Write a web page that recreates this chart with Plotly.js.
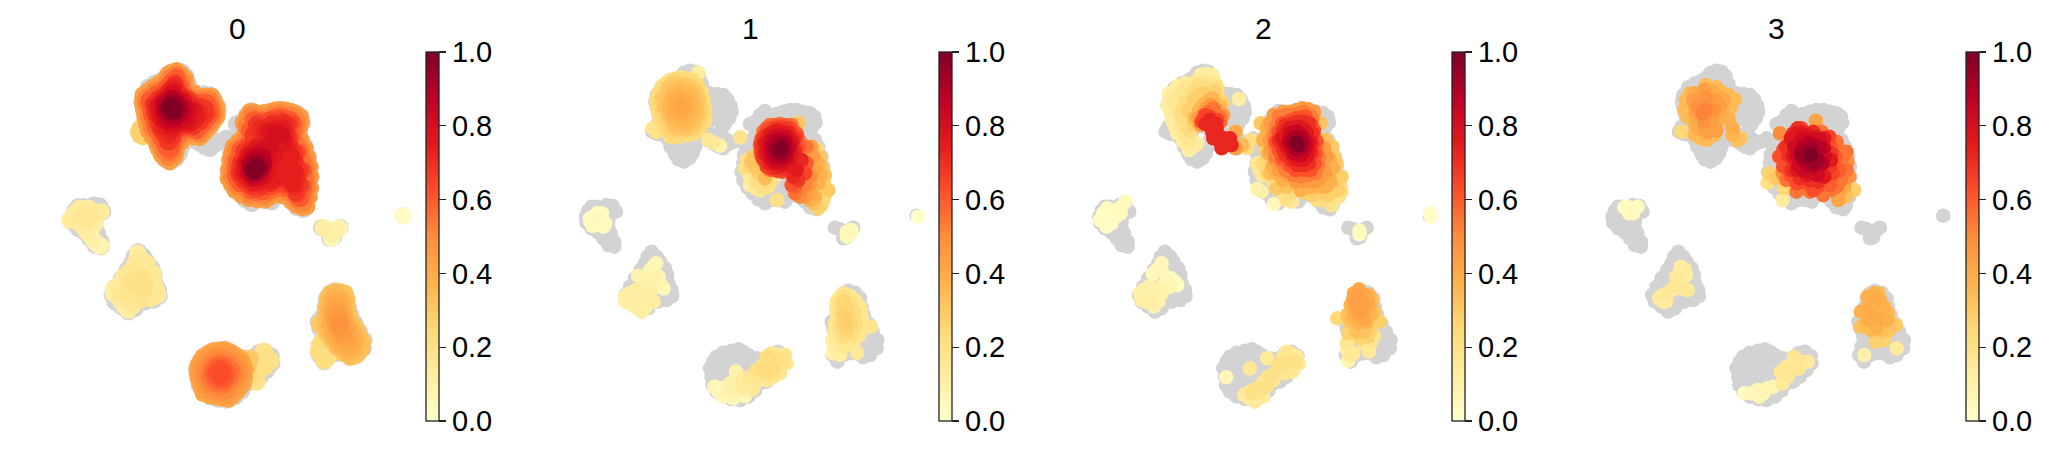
<!DOCTYPE html>
<html><head><meta charset="utf-8">
<script src="https://cdn.plot.ly/plotly-3.0.1.min.js"></script>
<style>html,body{margin:0;padding:0;background:#fff}</style></head>
<body><div id="chart" style="width:2053px;height:475px"></div>
<script>
const panelTitles = ["0","1","2","3"];
const tickVals = [0,0.2,0.4,0.6,0.8,1.0];
const tickText = ["0.0","0.2","0.4","0.6","0.8","1.0"];
const ylOrRd = ["#ffffcc","#ffeda0","#fed976","#feb24c","#fd8d3c","#fc4e2a","#e31a1c","#bd0026","#800026"];

// embedding positions of all cells (x,y pairs)
const allCells = [
410,212,425,215,437,228,445,250,450,268,470,280,490,282,510,285,522,298,532,318,535,335,528,355,515,372,505,390,490,405,475,418,460,420,445,410,430,420,425,440,418,460,408,475,392,485,375,478,365,462,352,440,345,420,330,405,312,402,297,395,305,380,318,365,316,345,310,322,306,305,310,285,325,262,345,250,365,242,380,232,392,218,
350,290,380,270,410,250,430,280,400,300,360,330,390,340,420,320,450,310,480,320,500,340,470,360,440,360,410,380,380,390,350,370,370,420,400,440,380,450,340,340,430,390,460,385,500,310,330,350,330,380,370,300,445,385,500,365,480,300,
480,430,495,440,510,445,525,432,545,425,560,415,520,420,
590,372,605,365,620,345,635,333,650,345,670,342,690,335,710,330,730,330,750,335,770,340,783,350,787,368,775,385,770,400,785,420,795,440,805,470,810,500,812,530,812,560,808,590,798,615,790,628,770,622,755,605,738,590,722,580,708,590,695,605,678,600,655,600,635,610,615,598,598,580,582,562,570,540,565,515,570,490,572,465,578,440,590,425,605,405,610,385,
640,380,670,370,700,365,735,365,760,370,630,420,665,410,700,410,735,410,600,460,640,460,680,450,720,450,760,450,600,510,640,510,680,500,720,500,770,490,620,560,660,560,700,550,740,550,780,550,780,590,620,390,650,410,620,470,590,540,650,530,700,475,750,420,790,470,790,520,760,590,720,560,680,580,640,580,
845,683,860,688,875,695,880,712,870,715,890,690,900,683,1090,647,
115,620,130,620,145,625,160,615,178,618,188,635,170,645,165,665,165,685,172,700,183,725,183,740,165,735,150,715,135,698,115,685,100,668,98,650,105,632,125,650,145,650,145,680,120,640,150,635,120,670,150,665,150,695,
295,755,310,770,320,785,335,805,342,825,345,850,355,870,357,888,340,900,315,905,295,908,285,925,265,935,245,920,225,905,217,885,230,860,245,835,262,810,275,790,283,770,300,800,310,830,280,830,265,860,300,860,320,870,250,880,280,890,300,780,325,810,320,845,295,830,260,835,240,870,270,900,300,885,335,880,255,905,
555,1048,535,1052,510,1058,490,1070,480,1085,470,1105,475,1130,478,1155,490,1175,510,1190,535,1197,560,1200,585,1190,605,1172,620,1150,640,1145,660,1130,680,1110,695,1090,693,1068,675,1055,655,1060,635,1075,610,1075,585,1065,570,1055,520,1090,560,1090,600,1110,640,1105,510,1130,550,1130,590,1145,520,1165,560,1165,500,1090,535,1075,575,1080,500,1115,530,1110,570,1110,495,1150,535,1145,575,1135,610,1095,625,1130,660,1080,680,1085,655,1105,500,1175,540,1180,580,1165,
885,872,905,878,920,895,925,920,932,945,945,970,958,995,972,1020,970,1045,950,1065,930,1072,910,1060,890,1060,870,1065,852,1085,838,1065,845,1040,850,1010,840,985,835,965,850,945,855,920,860,895,870,880,885,920,900,960,880,990,920,1000,890,1030,940,1030,870,910,900,910,870,950,905,930,865,1000,910,990,930,975,870,1030,920,1040,950,1020,950,1000,905,1020
];

// density level rows: first number is the level, then x,y pairs
const levels0 = [
[0.02,1090,647],
[0.05,875,715],[0.07,898,685],[0.08,182,738,170,730],[0.10,875,695,160,720,862,690,887,690,875,705,150,705],[0.11,265,930,250,915],[0.12,850,683,165,672,140,695,293,760,220,880,222,865,130,680],
[0.13,183,635,353,885,110,635,100,645,145,625,170,640,120,670,90,660],[0.14,100,660,120,625,250,830,240,900,300,775,275,810,350,875,235,855],[0.15,155,640,285,790,320,790,340,820,345,860,315,810,330,835,340,840,340,890,280,915],[0.16,140,660,125,650,330,895,320,890,265,820,240,880],
[0.18,300,900,265,885,290,815,672,1053,693,1082,650,1147,295,880,265,850,320,850,290,840],[0.20,305,835,310,870,280,850,665,1085,655,1120,640,1100,680,1070,675,1100,645,1130],[0.22,840,1050,852,1082,870,1065,835,1055,838,1035,846,1068,862,1075,880,1050],[0.24,850,1020,630,1130],[0.27,296,397,300,385,300,405,310,410],[0.30,838,972,625,1100,630,1075],
[0.33,885,875,915,880,920,920,930,960,950,990,968,1025,955,1060,930,1070,890,1040,860,1000,857,960,860,920,865,890,900,875,920,900,925,940,940,975,958,1008,965,1045,943,1068,910,1058,875,1020,858,980,858,940,862,905,873,880],
[0.35,895,885,912,905,917,945,932,985,950,1012,948,1045,925,1062,895,1040,870,1005,863,975,864,940,866,905,880,880],
[0.37,885,890,905,895,910,930,920,965,940,1000,950,1025,940,1050,925,1055,895,1030,875,995,868,960,870,925,875,900],
[0.39,895,900,905,920,913,950,928,985,942,1020,932,1042,910,1040,885,1010,872,975,873,940,878,912],
[0.41,890,910,900,935,910,970,925,1005,930,1030,905,1020,890,990,880,960,880,930],
[0.42,555,1050,520,1052,490,1070,475,1095,472,1120,480,1150,490,1180,525,1190,565,1197,590,1175,610,1150,615,1110,605,1080,580,1062,538,1050,505,1060,482,1082,472,1108,475,1135,485,1165,507,1186,545,1194,578,1187,600,1162,613,1130,610,1095,593,1070,568,1055],
[0.43,895,925,905,955,918,990,920,1018,900,1005,886,975,882,945],
[0.44,410,212,435,235,440,265,480,290,515,289,530,320,530,350,510,380,480,412,440,405,412,440,405,470,388,485,365,465,350,430,325,390,315,350,308,310,310,285,340,262,375,240,385,222,423,222,438,250,460,278,498,289,523,305,530,335,520,365,495,396,460,410,426,423,408,455,396,478,376,475,357,448,337,410,320,370,311,330,309,297,325,273,357,251,380,231,397,216,540,1057,512,1068,490,1090,477,1115,486,1143,497,1168,517,1183,547,1187,572,1178,592,1155,607,1125,600,1095,585,1076,565,1064],
[0.45,630,335,610,368,655,345,690,335,720,329,755,335,780,350,782,372,770,400,795,445,810,500,811,565,800,620,770,615,740,590,700,585,675,600,625,595,585,570,565,535,570,480,580,440,610,410,893,945,900,975,910,1000,895,985,885,955,643,337,672,338,705,331,738,331,768,342,782,362,778,388,783,422,803,472,812,530,807,590,787,622,755,603,722,585,688,592,650,598,605,585,575,553,566,508,575,460,595,425,620,352,618,390],
[0.46,555,1060,525,1062,498,1078,483,1100,482,1125,492,1155,503,1172,530,1180,562,1185,582,1165,600,1142,603,1108,595,1085,575,1070],
[0.48,897,965,900,980,419,234,430,260,455,287,495,294,517,312,525,338,513,362,490,388,460,400,423,413,402,447,391,466,379,463,362,440,343,405,330,367,322,330,316,300,333,282,362,261,385,241,400,228,638,342,664,348,703,338,736,338,765,350,776,372,770,392,778,428,797,478,806,532,802,590,782,612,757,593,722,578,688,584,650,590,608,577,583,550,572,508,580,462,600,430,625,360,625,400,538,1068,515,1080,497,1100,490,1120,500,1148,520,1172,548,1176,570,1160,585,1140,597,1118,582,1095,562,1078],
[0.50,550,1072,525,1075,505,1090,495,1110,498,1135,510,1160,535,1168,560,1170,575,1150,590,1130,590,1105,572,1085],
[0.52,410,222,428,245,432,275,478,298,510,298,520,325,520,348,503,372,478,402,440,395,405,432,398,460,385,472,372,455,358,425,335,385,325,348,318,310,320,292,345,272,378,250,390,232,632,348,618,380,660,355,695,345,722,340,752,345,770,358,770,380,762,405,785,450,800,505,802,560,792,608,772,602,745,578,700,572,672,588,628,585,592,560,575,530,580,482,590,445,618,418,537,1082,515,1095,503,1120,512,1145,538,1160,563,1150,580,1120,566,1092],
[0.55,540,1090,515,1105,510,1130,525,1150,550,1155,570,1135,575,1110,560,1095],
[0.56,415,245,425,268,450,295,490,304,510,318,515,338,500,358,482,382,452,388,418,405,396,440,386,458,372,428,352,398,340,362,332,330,326,305,340,290,365,272,388,253,403,238,645,358,668,360,710,350,735,352,757,365,762,392,770,435,788,482,796,535,792,578,775,595,755,572,722,565,686,575,650,578,615,560,590,540,585,505,595,465,612,438,632,408],
[0.58,530,1098,518,1118,532,1142,555,1140,565,1120,552,1100],
[0.60,410,232,420,258,425,285,475,308,500,308,510,330,510,345,495,365,470,392,435,385,400,422,392,448,378,440,365,415,345,380,335,345,328,312,330,298,350,282,380,262,395,245,640,360,628,392,665,365,700,355,725,350,750,358,760,372,755,410,775,455,790,510,790,560,782,595,770,588,745,565,700,560,668,575,632,572,600,550,587,527,590,485,600,450,628,425,535,1105,525,1125,545,1140,558,1120,548,1105],
[0.62,530,1115,540,1132,552,1125,540,1108],[0.63,538,1122,545,1115],
[0.64,410,262,420,282,455,305,484,320,502,337,488,355,470,372,445,380,412,392,392,425,380,420,362,390,350,358,342,328,346,305,368,286,393,265,655,368,690,360,722,358,752,368,750,412,770,458,784,510,784,558,772,582,755,558,725,553,690,560,650,568,622,552,604,535,596,505,608,472,622,440,640,418],
[0.68,405,250,415,275,440,295,470,318,495,325,495,345,480,365,460,380,430,375,398,408,385,425,372,400,355,372,345,340,340,312,355,295,382,278,650,375,640,405,670,380,705,368,728,365,745,375,745,415,765,460,778,510,778,555,768,578,745,550,705,545,665,560,635,560,610,540,598,522,602,488,612,455,640,432],
[0.71,403,258,422,288,452,312,482,340,465,360,435,373,408,385,385,405,365,385,352,345,347,315,372,290,390,270,660,385,695,372,735,372,740,400,750,440,765,485,772,530,765,560,748,540,725,535,690,550,650,552,625,540,606,522,605,500,618,475,632,450,658,428,665,405],
[0.74,400,268,430,300,465,330,470,350,450,370,420,370,395,390,375,380,360,350,352,320,365,300,675,395,705,385,730,385,735,420,755,470,765,515,760,550,740,530,710,525,690,460,720,450,665,545,638,548,618,530,610,515,614,490,625,462,652,440,680,420,700,420,740,450,750,500,730,490,710,490,700,500,690,500,700,540],
[0.77,400,275,428,302,455,330,445,362,418,368,392,380,368,360,358,335,360,312,385,290,690,395,715,395,730,430,710,440,695,420,700,470,685,500,675,525,652,535,632,530,616,512,618,490,628,468,645,450,668,442],
[0.80,398,282,425,305,445,330,440,355,415,365,390,370,372,345,365,320,375,302,705,405,725,405,690,440,680,470,665,530,640,535,625,520,622,495,635,470,660,455],
[0.83,410,300,435,322,432,345,402,362,382,360,370,332,372,312,388,297,665,480,670,505,655,525,638,530,626,515,628,490,640,472,655,463],
[0.86,398,295,420,315,425,335,410,350,390,355,377,335,375,315,672,490,660,515,640,525,630,510,632,490,648,475,668,470],
[0.89,410,312,420,325,415,342,395,348,382,338,378,322,392,305,665,495,655,512,640,520,632,505,640,485,655,478],
[0.92,397,305,412,322,400,340,385,330,388,315,660,500,645,515,636,503,645,490,655,490],
[0.95,405,318,408,335,392,336,388,322,398,312,653,500,647,510,640,505,645,495],
[1.0,395,322,390,320,402,330,642,512,650,505]
];

const levels1 = [
[0.01,1094,650],[0.03,111,665,131,640,146,640,120,650,110,655],[0.04,156,670,131,675,881,710,150,680,118,678],[0.05,141,655,895,690,331,865,890,702],[0.06,880,695,309,790,316,830,483,1160,510,1190,540,1195,520,1170,575,1188,495,1175,555,1185,505,1165,300,800],[0.07,291,810,305,825,320,850],[0.08,254,827,500,437,530,1175],
[0.10,286,850,548,1115,545,1170,555,1150,590,1170,530,1150,839,1060,295,835,275,860,560,1170],[0.11,216,890,216,905,276,925,251,925,232,900,228,880,238,915,265,935],[0.12,436,218,236,885,261,875,291,880,301,905,256,900,861,1065,590,555,275,895,290,895,248,870,575,1165],[0.13,836,1020,842,1040],[0.14,565,1155,605,1150,570,1135,590,1155,580,1145],[0.15,465,420,911,1058,590,530,622,570,607,565,480,428,600,1165],[0.16,871,1040],
[0.17,590,1135,620,1130,655,1060,695,1065,700,1090,680,1120,953,980,871,880,905,900,920,920,925,950,925,990,905,1020,875,1025,850,1010,845,970,850,940,850,905,890,888,922,935,925,970,918,1005,890,1025,860,1020,845,990,848,920,858,892,675,1065,640,1140,660,1130,600,1125],
[0.18,298,385,561,412,310,395],[0.20,610,1110,630,1095,650,1120,665,1085,685,1085,671,600,645,560,575,505,580,480,610,545,630,565,655,545,640,1070,650,1070,625,1115,670,1100,690,1075],
[0.22,381,232,420,240,445,275,455,320,455,365,425,400,380,410,350,410,330,380,315,340,308,300,325,260,350,240,871,890,895,910,905,940,908,975,895,1005,870,1010,860,980,860,940,862,910],
[0.23,630,1105,650,1095,645,1075,640,1120,660,1110],[0.24,400,235,433,255,450,298,456,343,441,385,403,406,365,411,340,395,322,360,311,320,315,280,337,250,365,236],[0.25,590,500,810,600,791,450,812,545,815,585,805,615],[0.26,871,905,885,930,890,965,880,995,870,970,870,935],
[0.27,381,245,415,252,435,280,445,320,442,360,420,390,385,398,355,395,340,370,325,335,320,300,335,268,355,250],[0.28,875,950,878,975,615,520,795,625],
[0.30,736,368,600,470,605,500,825,570,800,470,398,255,425,270,439,300,438,340,425,372,398,390,370,388,350,362,331,325,328,290,345,260,368,252,630,510,810,520],[0.32,381,258,410,265,425,290,432,320,430,350,410,375,385,382,360,378,345,350,335,320,335,295,350,272,805,500,815,525,610,485,595,485],[0.33,780,610],
[0.34,395,272,418,288,426,312,425,340,405,368,370,370,352,340,342,310,355,285,370,268],[0.35,635,535],
[0.36,381,272,405,282,418,305,420,335,405,358,382,368,360,355,348,325,352,295,362,280],[0.38,795,550,795,490,800,525,785,590,770,600],[0.39,381,290,402,305,405,330,385,348,365,335,362,305],[0.40,392,298,395,325,372,325],
[0.42,381,315,388,325,785,510,770,580,775,440],[0.45,780,470,755,590,770,555,765,510,770,455],[0.50,770,530,740,590],[0.52,745,565,755,555],[0.55,681,372,715,375,720,395,738,420,735,460,620,435,630,395,650,375,625,470,650,510,680,515,725,580,760,440],
[0.60,760,490,698,376,730,400,738,440,728,480,690,515,660,510,638,490,622,452,625,415,640,385,668,375,725,560],[0.62,715,555],
[0.65,681,380,710,385,728,410,730,445,722,480,700,510,670,512,640,500,625,465,622,430,638,400,655,385,755,520],[0.68,735,540,696,386,724,415,727,462,712,495,685,508,655,505,630,478,626,445,632,412,668,385],
[0.72,681,392,708,398,720,420,722,450,715,485,695,500,668,502,645,490,632,460,632,430,645,405,660,395,745,480,720,530],[0.75,730,510,695,400,716,425,718,465,702,492,678,498,656,488,638,460,638,430,652,402,670,393],
[0.79,681,405,702,410,712,430,712,455,705,480,685,490,665,490,650,475,642,450,645,425,660,410],[0.82,692,412,708,440,702,470,675,485,655,472,648,440,658,418,672,408],
[0.85,681,418,698,425,703,445,698,465,685,478,668,475,655,460,655,435,665,422],[0.88,692,428,698,450,682,470,665,462,660,440,674,424],
[0.91,681,428,693,440,692,458,678,465,665,450,668,435],[0.94,688,436,686,458,672,445],[0.96,682,440,685,450,675,452],[1.0,681,445]
];

const levels2 = [
[0.01,1090,640,1094,650],[0.02,107,655,127,645,120,680,100,660,110,640,135,670],[0.03,147,650,162,640,122,625,879,703,312,835,332,855,325,845,150,630],[0.04,177,605,879,692,165,620],[0.05,259,822,622,612,270,810],[0.06,285,790,292,855,479,1132,300,845,285,810],[0.07,845,1082,310,860],
[0.09,272,865,275,905,285,880],[0.10,222,885,247,860,262,920,220,880,842,1050,572,567,585,575,258,880,232,870],[0.11,237,905,250,900,225,900],[0.12,402,225,437,225,332,258,307,280,302,315,317,360,332,400,367,450,392,430,517,297,420,222,310,295,312,340,325,380,350,425,380,440,330,270,355,250],
[0.14,533,1185,565,1205,590,1190,670,1060,690,1070,695,1092,602,1075,548,1195,678,1115,550,1175],[0.15,550,1105,572,490,587,525,677,605,907,1055,860,1060,850,1065,578,508],[0.17,357,260,417,245,447,250,317,300,337,340,352,400,367,425,342,375,560,1170,590,1145,620,1140,640,1110,670,1105,650,1070,847,1020,892,1030,922,1010,867,1005,385,245,340,285,330,320,360,345,395,270,575,1180,605,1130,655,1120,660,1055,840,1030,912,1030],
[0.18,817,590,795,615,825,575],[0.20,585,1165,610,1130,635,1095,665,1085,680,1080,555,1180,617,540,647,575,787,605,822,555,575,1165,645,1100,690,1085,600,1160,620,1120,660,600],
[0.22,397,255,377,275,357,305,367,360,372,395,452,265,459,295,347,330,552,420,542,445,752,600,677,580,430,262,345,350,360,385,770,600],[0.25,812,955,807,520,590,490,600,520],[0.26,797,575],
[0.27,852,985,877,1000,912,990,927,960,880,1015,905,1010,845,1000],[0.28,412,280,392,300,377,340,382,375,467,310,597,450,939,965,767,580,445,275,365,330,380,300,395,285,815,570,785,585,740,585,720,580,825,530],
[0.30,582,370,737,570,802,470,797,440,810,490,630,565],[0.32,842,945,852,965,922,935,917,900,897,980,867,980,762,370,895,995,870,995],[0.33,777,420,660,560,610,520],[0.35,742,340,527,435],
[0.36,437,295,417,310,397,335,392,365,462,335,447,310,430,300,405,320,385,355,460,320],[0.37,852,915,857,950,907,885,912,945,877,970,910,920,860,900,900,965],
[0.38,787,520,782,470,777,560,747,555,717,560,702,570,647,540,617,500,597,410,607,370,800,505,792,545,765,560,735,560,630,520,605,460,590,420,600,385,790,480],[0.41,862,880,877,868,867,920,902,920,892,960,867,940,892,885,507,395,860,900,880,950,905,905],
[0.44,882,900,882,935,890,915,875,885,870,910],[0.45,432,315,412,340,457,350,402,375,772,445,767,500,757,540,727,540,687,545,637,510,612,450,617,390,622,345,672,335,707,325,742,335,507,445,450,330,420,325,395,355,470,345,780,470,775,520,745,545,710,545,665,525,625,480,610,420,612,370,650,335,690,330,725,328],
[0.53,757,470,747,520,702,530,657,510,627,470,622,410,637,350,677,345,712,335,737,355,755,495,725,525,680,525,645,490,625,440,628,380,660,345,695,340,730,345,745,410,750,440],[0.55,427,335,442,340,407,365,462,365,440,325,420,350,460,352],
[0.62,742,390,747,460,732,510,687,510,647,475,627,425,647,370,687,355,717,350,750,425,745,490,712,510,668,495,637,450,635,395,670,362,705,352,735,375],[0.65,429,350,417,370,452,360,445,360,425,360,405,365,415,345],
[0.70,727,370,737,430,727,490,692,495,657,465,637,420,657,375,692,365,738,400,735,460,712,495,675,482,648,445,648,395,678,370,712,365],[0.72,422,372,447,370,437,395,452,415,467,435,489,425,472,415,435,385,445,405,460,425,480,428,490,415,417,372,430,360,450,385,460,410,440,415,478,435,495,435,465,445],
[0.76,722,400,727,450,712,480,687,478,662,445,647,415,667,385,697,380,730,425,722,468,700,480,675,462,655,430,660,400,685,382,712,388],[0.84,709,410,717,440,702,465,682,460,665,430,672,400,692,395,718,425,712,455,695,462,675,445,670,415,685,398,702,402],
[0.91,702,420,705,440,689,448,677,425,687,410,708,430,698,446,685,438,683,415,698,412],[1.0,689,428,695,435]
];

const levels3 = [
[0.03,133,622,158,625,173,620,493,1180,145,622],[0.04,148,640,160,640],[0.05,515,1180],[0.06,538,1190,533,1170,550,1180],[0.07,563,1165,580,1160],[0.10,853,1065],[0.12,318,825],[0.13,303,800,238,895,258,905,950,1045,608,600,315,810,300,815,250,905],[0.14,288,830,608,1150,683,1085,300,845,305,865,275,870,250,885,610,1130],[0.15,323,870,263,880,623,1130,640,1090,660,1085,620,1100],[0.16,288,860,603,1115],[0.17,643,1070,658,1105,633,1110,650,1100],
[0.20,563,548],[0.25,305,395,613,565],[0.27,568,520,913,1020],[0.28,888,1025,823,570],[0.30,948,975,483,415,588,535],[0.32,928,990],
[0.33,843,980,903,995,473,420,798,590],[0.35,378,255,423,275,465,298,451,325,318,300,313,330,338,360,363,415,403,405,873,990,330,280,410,262,445,285,322,350,345,375,380,420,345,405,860,925,880,985,925,940,895,880],[0.36,458,405],
[0.38,843,935,883,880,863,890,913,920,923,960,448,360,870,900,900,900,860,960,900,940,890,985],[0.40,873,920,893,960,868,960,888,900,343,280,398,275,433,300,428,335,408,370,353,385,378,400,458,385,360,285,415,290,390,280,345,345,350,360],
[0.42,708,362,793,560,780,575,775,600],[0.44,373,270,343,310,408,300,373,385,390,315,350,335,395,355,420,315,385,395,410,390,340,300],[0.48,378,295,353,320,403,330,373,365,608,520,773,440,803,485,808,530],[0.50,600,400],[0.52,378,330,368,340],
[0.55,658,555,753,570,783,540,788,470,620,540,650,575,690,575,730,585,770,560,800,510,800,455,770,425,725,395,770,445,780,495],[0.60,778,510,750,555,768,470,755,440],[0.63,598,470,633,525,713,560,683,550,640,410,610,450,610,500,650,550,700,570,745,430,665,385],[0.65,748,410,758,520],
[0.68,750,500,755,460,745,505],[0.70,653,385,618,440,643,490,688,540,670,395,700,395,640,400,625,465,635,510,660,535,715,545],[0.76,683,405,633,415,658,490,733,530,733,415,753,480,650,400,665,400,710,410,640,470,650,510,680,525],
[0.82,668,415,643,440,668,510,713,525,733,445,700,415,720,420,650,465,655,495,690,515,735,470],[0.88,683,430,663,455,683,495,728,490,723,445,670,440,700,435,670,480,700,500,710,445],[0.94,683,450,678,475,713,480,695,445,700,490,665,465],[1.0,693,465]
];

const panelLevels = [levels0, levels1, levels2, levels3];

function flatten(levels){
  const out=[];
  levels.forEach(r=>{for(let i=1;i<r.length;i+=2) out.push([r[i],r[i+1],r[0]]);});
  out.sort((a,b)=>a[2]-b[2]);
  return out;
}
const W=2053,H=475,step=513.3,axL=40,axW=385;
const FONT="Liberation Sans, Arial, sans-serif";
const scale=ylOrRd.map((c,i)=>[i/(ylOrRd.length-1),c]);
const grayX=allCells.filter((_,i)=>i%2===0), grayY=allCells.filter((_,i)=>i%2===1);
const traces=[], layout={
  width:W,height:H,paper_bgcolor:"#fff",plot_bgcolor:"rgba(0,0,0,0)",showlegend:false,
  margin:{l:0,r:0,t:0,b:0,autoexpand:false},
  font:{family:FONT,color:"#000"},
  annotations:[]
};
const markerSizes=[17.5,14.5,14.5,14.5];
panelLevels.forEach((lv,k)=>{
  const sfx=k===0?"":String(k+1);
  const pts=flatten(lv);
  traces.push({type:"scatter",mode:"markers",x:grayX,y:grayY,xaxis:"x"+sfx,yaxis:"y"+sfx,hoverinfo:"skip",cliponaxis:false,
    marker:{size:markerSizes[k],color:"#d3d3d3",line:{width:0}}});
  traces.push({type:"scatter",mode:"markers",x:pts.map(p=>p[0]),y:pts.map(p=>p[1]),xaxis:"x"+sfx,yaxis:"y"+sfx,cliponaxis:false,
    marker:{size:markerSizes[k],color:pts.map(p=>p[2]),colorscale:scale,cmin:0,cmax:1,line:{width:0},opacity:1,
      colorbar:{x:(425.7+step*k)/W,xanchor:"left",xpad:0,ypad:0,y:(H-52)/H,yanchor:"top",len:369,lenmode:"pixels",thickness:13,thicknessmode:"pixels",
        outlinewidth:1.3,outlinecolor:"#222",borderwidth:0,ticks:"outside",ticklen:7,tickwidth:1.3,tickcolor:"#222",
        tickmode:"array",tickvals:tickVals,ticktext:tickText,tickfont:{size:29,family:FONT,color:"#000"}}}});
  const left=axL+step*k;
  layout["xaxis"+sfx]={domain:[left/W,(left+axW)/W],range:[0,axW*3],visible:false,fixedrange:true};
  layout["yaxis"+sfx]={domain:[0,1],range:[H*3,0],visible:false,fixedrange:true};
  layout.annotations.push({xref:"paper",yref:"paper",x:(237+step*k)/W,y:(H-28)/H,xanchor:"center",yanchor:"middle",showarrow:false,
    text:panelTitles[k],font:{size:30,family:FONT,color:"#000"}});
});
Plotly.newPlot("chart",traces,layout,{displayModeBar:false,staticPlot:true});
</script></body></html>
